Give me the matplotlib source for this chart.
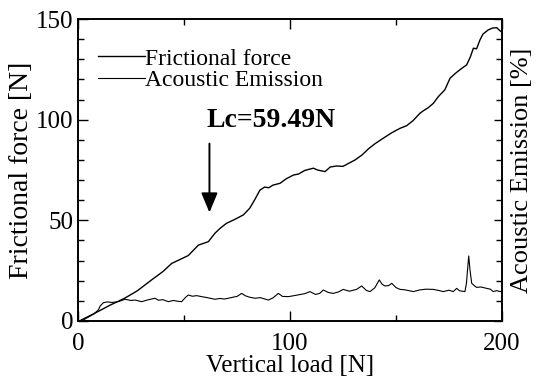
import matplotlib

matplotlib.use("Agg")
import matplotlib.pyplot as plt
from matplotlib.ticker import MultipleLocator, NullFormatter

# frictional force [N] vs vertical load [N]
fric_load = [1.5, 5, 10, 15, 22, 28, 34.7, 40, 44.2, 48, 52, 56.8, 59, 61.5, 64.6,
             67, 70, 74, 78, 81, 83.5, 85.8, 88, 90, 92, 95.3, 98, 101.6, 104,
             107, 111, 113, 116.5, 119, 122, 125, 128, 130.7, 134, 137, 140,
             144, 148, 151.9, 155, 158, 161.3, 163, 165, 167.6, 170, 173, 175.5,
             178, 181, 183.3, 185, 186.5, 188, 189.6, 191, 193.5, 195.5, 197.5,
             199, 200]
fric_force = [0.5, 2.3, 5, 7.8, 11.3, 15, 20.4, 24.5, 28.6, 30.5, 32.5, 37.7, 38.5,
              39.4, 43.6, 46, 48.5, 50.5, 52.7, 56, 60.5, 65, 66.5, 66.2, 67.5,
              68.4, 70.5, 72.5, 73, 74.8, 75.9, 75, 74.2, 76.5, 77, 76.8, 78.5, 80,
              82.5, 85.5, 88, 90.8, 93.5, 95.7, 97, 99.5, 103.2, 104.5, 105.8,
              108.1, 111.5, 114.8, 120.6, 123, 125.5, 127.2, 131, 135.5, 135.2,
              139.6, 142.5, 144.6, 145.5, 145.7, 144.2, 143.5]

# acoustic emission [%] vs vertical load [N]
ae_load = [2.5, 5, 7.5, 9.6, 10.5, 12, 14, 16, 19, 22.2, 25, 27, 30, 33, 36.3, 38,
           40, 42.6, 45, 47, 48.9, 50.5, 52, 54, 56, 58.3, 61, 64.6, 67, 69, 70.9,
           73, 75, 77.2, 79, 81, 83.5, 86, 89.8, 92, 94.5, 96.5, 99.2, 102, 105,
           107, 109.4, 112, 114, 115.7, 118, 120.4, 123, 125.1, 128, 131.4, 133.8,
           136, 137.7, 140, 142.1, 143.5, 144.8, 146.5, 148, 150, 151.9, 154,
           156, 158.2, 161, 164, 167.6, 170, 172.3, 175, 177, 178.6, 180, 182.5,
           183.2, 183.6, 184.3, 184.9, 185.7, 187, 188, 190, 192.8, 194.5, 195.9,
           197.5, 199, 200]
ae_value = [0.5, 2, 3.5, 5.5, 7.5, 9.1, 9.5, 9.2, 9.6, 10.8, 10.2, 10.4, 9.6, 10.5,
            11.3, 10.3, 10.6, 9.6, 10.2, 9.8, 9.6, 11.5, 12.9, 12.3, 12.6, 12.1,
            11.6, 10.8, 11.2, 10.9, 11.3, 11.8, 12.2, 13.7, 12.5, 11.8, 11.3, 11.6,
            10.4, 11.5, 13.7, 12.2, 12.1, 12.6, 13.2, 13.6, 14.6, 13.2, 13.7, 15.4,
            14.2, 13.7, 14.5, 15.7, 14.8, 15.7, 17.4, 15.2, 14.6, 16.5, 20.4, 18.2,
            17.4, 17.6, 18.7, 16.6, 15.7, 15.5, 15.1, 14.6, 15.4, 15.8, 15.7, 15.2,
            14.6, 15.3, 14.6, 16.2, 15.0, 14.6, 18.5, 23.7, 32.3, 25.3, 18.7, 17.5,
            16.7, 16.9, 16.2, 15.8, 14.6, 15.1, 14.6, 14.8]

LC_LABEL = "Lc=59.49N"

plt.rcParams["font.family"] = ["Liberation Serif", "DejaVu Serif"]

fig = plt.figure(figsize=(5.36, 3.78), dpi=100)
ax = fig.add_axes([0.1455, 0.1508, 0.7911, 0.7989])
ax2 = ax.twinx()

ax.plot(fric_load, fric_force, color="black", linewidth=1.0, label="Frictional force")
ax2.plot(ae_load, ae_value, color="black", linewidth=0.8, label="Acoustic Emission")

ax.set_xlim(0, 200)
ax.set_ylim(0, 150)
ax2.set_ylim(0, 150)

ax.xaxis.set_major_locator(MultipleLocator(100))
ax.xaxis.set_minor_locator(MultipleLocator(50))
ax.yaxis.set_major_locator(MultipleLocator(50))
ax.yaxis.set_minor_locator(MultipleLocator(10))
ax2.yaxis.set_major_locator(MultipleLocator(50))
ax2.yaxis.set_minor_locator(MultipleLocator(10))
ax2.yaxis.set_major_formatter(NullFormatter())

ax.tick_params(which="both", direction="in", top=True, labelsize=18, colors="black")
ax.tick_params(which="major", length=7, width=1)
ax.tick_params(which="minor", length=4, width=1)
ax.tick_params(axis="x", pad=9)
ax.tick_params(axis="y", pad=3)
ax2.tick_params(which="both", direction="in")
ax2.tick_params(which="major", length=6, width=1)
ax2.tick_params(which="minor", length=4, width=1)

for spine in list(ax.spines.values()) + list(ax2.spines.values()):
    spine.set_linewidth(1.2)

ax.set_xlabel("Vertical load [N]", fontsize=18, labelpad=0)
ax.set_ylabel("Frictional force [N]", fontsize=20, labelpad=2)
ax2.set_ylabel("Acoustic Emission [%]", fontsize=19, labelpad=3)

handles = ax.get_lines() + ax2.get_lines()
ax.legend(handles, [h.get_label() for h in handles], loc="upper left",
          bbox_to_anchor=(0.024, 0.935), frameon=False, fontsize=17,
          handlelength=2.0, handletextpad=0.0, labelspacing=0.0,
          borderaxespad=0.0)

ax.annotate("", xy=(62, 52.5), xytext=(62, 89.5),
            arrowprops=dict(arrowstyle="-|>,head_length=1.2,head_width=0.5",
                            color="black", linewidth=1.4))
ax.text(60.5, 93.5, LC_LABEL, fontsize=20, fontweight="bold", ha="left", va="bottom")

fig.savefig("out.png", dpi=100)
